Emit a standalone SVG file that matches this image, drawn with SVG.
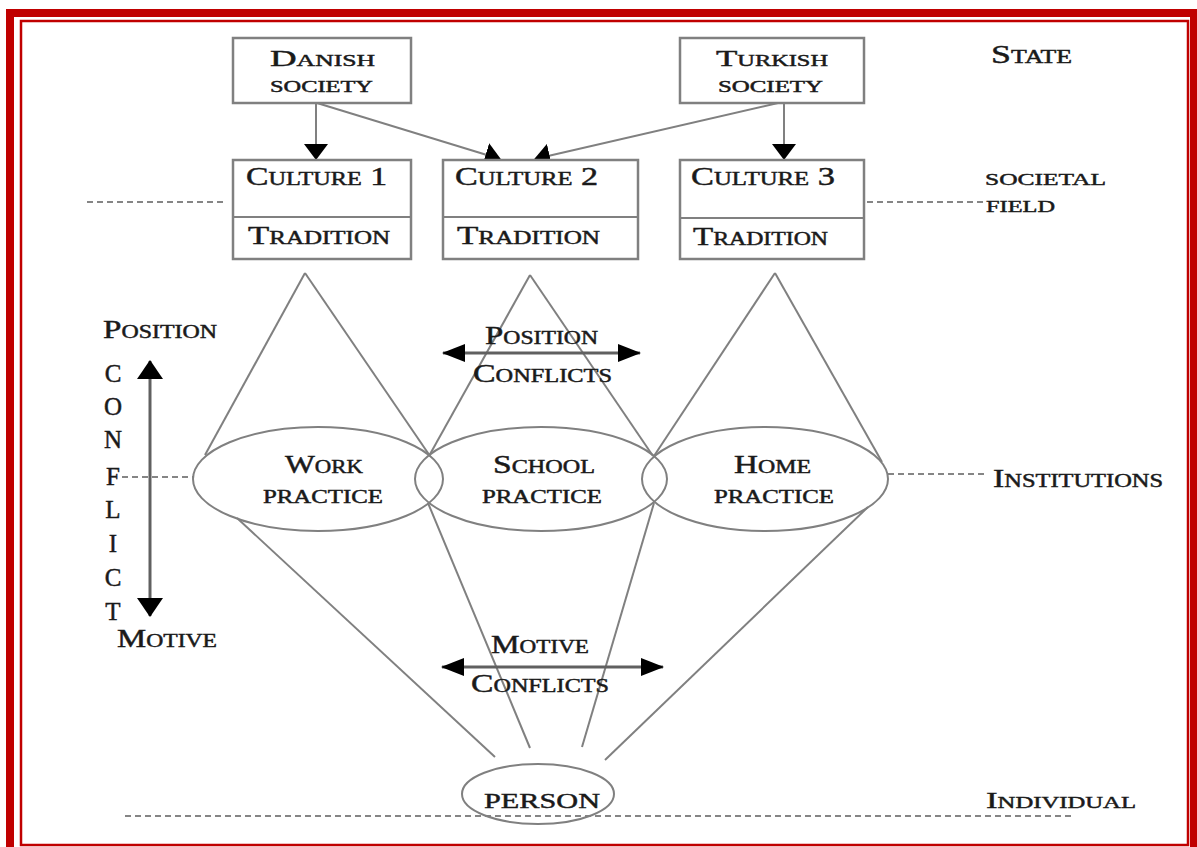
<svg xmlns="http://www.w3.org/2000/svg" width="1197" height="847" viewBox="0 0 1197 847">
<style>
.t{font-family:"Liberation Serif","Times New Roman",serif;font-variant:small-caps;fill:#1a1a1a;stroke:#1a1a1a;stroke-width:0.45;}
.box{fill:#fff;stroke:#808080;stroke-width:2.5;}
.ln{stroke:#808080;stroke-width:2;fill:none;}
.el{stroke:#808080;stroke-width:2;fill:none;}
.dash{stroke:#858585;stroke-width:2.2;stroke-dasharray:6 4;fill:none;}
.arr{stroke:#606060;stroke-width:3;fill:none;}
</style>
<defs>
<marker id="ah" markerUnits="userSpaceOnUse" markerWidth="16" markerHeight="24" refX="15" refY="12" orient="auto">
<path d="M0,0 L16,12 L0,24 Z" fill="#000"/>
</marker>
<marker id="ah2" markerUnits="userSpaceOnUse" markerWidth="23" markerHeight="18" refX="22" refY="9" orient="auto-start-reverse">
<path d="M0,0 L23,9 L0,18 Z" fill="#000"/>
</marker>
<marker id="ah3" markerUnits="userSpaceOnUse" markerWidth="19" markerHeight="26" refX="18" refY="13" orient="auto-start-reverse">
<path d="M0,0 L19,13 L0,26 Z" fill="#000"/>
</marker>
</defs>
<rect width="1197" height="847" fill="#fff"/>
<g id="frame">
<rect x="10" y="13" width="1184" height="842" fill="none" stroke="#c00000" stroke-width="8"/>
<rect x="21" y="21" width="1167" height="824" fill="none" stroke="#c00000" stroke-width="2.5"/>
</g>

<g id="connectors">
<line class="ln" x1="316" y1="103" x2="316" y2="159" marker-end="url(#ah)"/>
<line class="ln" x1="317" y1="103" x2="500" y2="159" marker-end="url(#ah)"/>
<line class="ln" x1="778" y1="103" x2="535" y2="159" marker-end="url(#ah)"/>
<line class="ln" x1="784" y1="103" x2="784" y2="159" stroke-width="4" marker-end="url(#ah)"/>
<line class="ln" x1="305" y1="273" x2="205" y2="455"/>
<line class="ln" x1="305" y1="273" x2="430" y2="456"/>
<line class="ln" x1="530" y1="275" x2="429" y2="456"/>
<line class="ln" x1="530" y1="275" x2="653" y2="456"/>
<line class="ln" x1="775" y1="273" x2="654" y2="456"/>
<line class="ln" x1="775" y1="273" x2="882" y2="462"/>
<line class="ln" x1="237" y1="518" x2="495" y2="757"/>
<line class="ln" x1="428" y1="503" x2="530" y2="748"/>
<line class="ln" x1="654" y1="503" x2="582" y2="747"/>
<line class="ln" x1="868" y1="507" x2="605" y2="760"/>
<line class="dash" x1="87" y1="202" x2="223" y2="202"/>
<line class="dash" x1="867" y1="202" x2="985" y2="202"/>
<line class="dash" x1="122" y1="477" x2="193" y2="477"/>
<line class="dash" x1="888" y1="474" x2="988" y2="474"/>
<line class="dash" x1="125" y1="816" x2="1072" y2="816"/>
<line class="arr" x1="150" y1="361" x2="150" y2="616" marker-start="url(#ah3)" marker-end="url(#ah3)"/>
<line class="arr" x1="443" y1="353" x2="640" y2="353" marker-start="url(#ah2)" marker-end="url(#ah2)"/>
<line class="arr" x1="442" y1="667" x2="663" y2="667" marker-start="url(#ah2)" marker-end="url(#ah2)"/>
</g>

<g id="danish-society">
<rect class="box" x="233" y="38" width="178" height="65"/>
<text class="t" x="270" y="66" font-size="23" textLength="105" lengthAdjust="spacingAndGlyphs">Danish</text>
<text class="t" x="270" y="92" font-size="23" textLength="103" lengthAdjust="spacingAndGlyphs">society</text>
</g>
<g id="turkish-society">
<rect class="box" x="680" y="38" width="184" height="65"/>
<text class="t" x="716" y="66" font-size="23" textLength="112" lengthAdjust="spacingAndGlyphs">Turkish</text>
<text class="t" x="718" y="92" font-size="23" textLength="105" lengthAdjust="spacingAndGlyphs">society</text>
</g>
<g id="culture-1">
<rect class="box" x="233" y="160" width="178" height="99"/>
<line class="ln" x1="233" y1="217" x2="411" y2="217" stroke-width="2.5"/>
<text class="t" x="246" y="185" font-size="25" textLength="141" lengthAdjust="spacingAndGlyphs">Culture 1</text>
<text class="t" x="248" y="244" font-size="25" textLength="142" lengthAdjust="spacingAndGlyphs">Tradition</text>
</g>
<g id="culture-2">
<rect class="box" x="443" y="160" width="195" height="99"/>
<line class="ln" x1="443" y1="217" x2="638" y2="217" stroke-width="2.5"/>
<text class="t" x="455" y="185" font-size="25" textLength="143" lengthAdjust="spacingAndGlyphs">Culture 2</text>
<text class="t" x="457" y="244" font-size="25" textLength="143" lengthAdjust="spacingAndGlyphs">Tradition</text>
</g>
<g id="culture-3">
<rect class="box" x="680" y="160" width="184" height="99"/>
<line class="ln" x1="680" y1="218" x2="864" y2="218" stroke-width="2.5"/>
<text class="t" x="691" y="185" font-size="25" textLength="144" lengthAdjust="spacingAndGlyphs">Culture 3</text>
<text class="t" x="693" y="245" font-size="25" textLength="135" lengthAdjust="spacingAndGlyphs">Tradition</text>
</g>
<g id="work-practice">
<ellipse class="el" cx="318" cy="479" rx="125" ry="52"/>
<text class="t" x="285" y="473" font-size="25" textLength="78" lengthAdjust="spacingAndGlyphs">Work</text>
<text class="t" x="263" y="503" font-size="25" textLength="120" lengthAdjust="spacingAndGlyphs">practice</text>
</g>
<g id="school-practice">
<ellipse class="el" cx="541" cy="479" rx="126" ry="52"/>
<text class="t" x="493" y="473" font-size="25" textLength="102" lengthAdjust="spacingAndGlyphs">School</text>
<text class="t" x="482" y="503" font-size="25" textLength="120" lengthAdjust="spacingAndGlyphs">practice</text>
</g>
<g id="home-practice">
<ellipse class="el" cx="765" cy="479" rx="123" ry="52"/>
<text class="t" x="734" y="473" font-size="25" textLength="77" lengthAdjust="spacingAndGlyphs">Home</text>
<text class="t" x="714" y="503" font-size="25" textLength="120" lengthAdjust="spacingAndGlyphs">practice</text>
</g>
<g id="person">
<ellipse class="el" cx="538" cy="794" rx="76" ry="30"/>
<text class="t" x="484" y="808" font-size="22" textLength="116" lengthAdjust="spacingAndGlyphs">PERSON</text>
</g>
<g id="labels">
<text class="t" x="991" y="63" font-size="25" textLength="81" lengthAdjust="spacingAndGlyphs">State</text>
<text class="t" x="985" y="185" font-size="24" textLength="121" lengthAdjust="spacingAndGlyphs">societal</text>
<text class="t" x="986" y="212" font-size="24" textLength="69" lengthAdjust="spacingAndGlyphs">field</text>
<text class="t" x="993" y="487" font-size="25" textLength="170" lengthAdjust="spacingAndGlyphs">Institutions</text>
<text class="t" x="986" y="808" font-size="24" textLength="150" lengthAdjust="spacingAndGlyphs">Individual</text>
<text class="t" x="103" y="338" font-size="25" textLength="114" lengthAdjust="spacingAndGlyphs">Position</text>
<text class="t" x="117" y="647" font-size="25" textLength="100" lengthAdjust="spacingAndGlyphs">Motive</text>
<text class="t" x="485" y="344" font-size="25" textLength="113" lengthAdjust="spacingAndGlyphs">Position</text>
<text class="t" x="473" y="382" font-size="25" textLength="139" lengthAdjust="spacingAndGlyphs">Conflicts</text>
<text class="t" x="491" y="653" font-size="25" textLength="98" lengthAdjust="spacingAndGlyphs">Motive</text>
<text class="t" x="471" y="692" font-size="25" textLength="138" lengthAdjust="spacingAndGlyphs">Conflicts</text>
<g class="t" font-size="25" text-anchor="middle">
<text x="113" y="382">C</text>
<text x="113" y="415">O</text>
<text x="113" y="448">N</text>
<text x="113" y="485">F</text>
<text x="113" y="518">L</text>
<text x="113" y="552">I</text>
<text x="113" y="586">C</text>
<text x="113" y="620">T</text>
</g>
</g>
</svg>
